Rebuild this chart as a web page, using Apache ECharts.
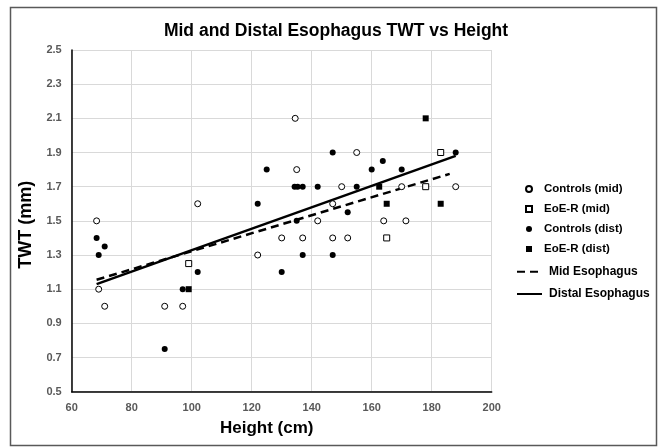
<!DOCTYPE html>
<html>
<head>
<meta charset="utf-8">
<script src="https://cdn.jsdelivr.net/npm/echarts@6/dist/echarts.min.js"></script>
<style>
  html, body { margin: 0; padding: 0; background: #fff; }
  #chart { width: 659px; height: 447px; }
</style>
</head>
<body>
<div id="chart"></div>
<script>
// 数据: [height cm, TWT mm]
const controlsMid = [
  [68.3, 1.5], [69, 1.1], [71, 1.0], [91, 1.0], [97, 1.0], [102, 1.6],
  [122, 1.3], [130, 1.4], [134.5, 2.1], [135, 1.8], [137, 1.4], [142, 1.5],
  [147, 1.6], [147, 1.4], [150, 1.7], [152, 1.4], [155, 1.9], [164, 1.5],
  [170, 1.7], [171.4, 1.5], [188, 1.7]
]
const eoeMid = [[99, 1.25], [165, 1.4], [178, 1.7], [183, 1.9]]
const controlsDist = [
  [68.3, 1.4], [69, 1.3], [71, 1.35], [91, 0.75], [97, 1.1], [102, 1.2],
  [122, 1.6], [125, 1.8], [130, 1.2], [134.3, 1.7], [135.3, 1.7], [135, 1.5],
  [137, 1.7], [137, 1.3], [142, 1.7], [147, 1.9], [147, 1.3], [152, 1.55],
  [155, 1.7], [160, 1.8], [163.7, 1.85], [170, 1.8], [188, 1.9]
]
const eoeDist = [[99, 1.1], [162.5, 1.7], [165, 1.6], [178, 2.1], [183, 1.6]]
// trend lines (end points)
const midTrend = [[68.3, 1.155], [186, 1.775]]
const distTrend = [[68.3, 1.13], [188, 1.88]]

const myChart = echarts.init(document.getElementById('chart'))

const tickLabel = {
  color: '#595959',
  fontSize: 11,
  fontWeight: 'bold',
  fontFamily: 'Liberation Sans'
}

const option = {
  animation: false,
  backgroundColor: '#fff',
  textStyle: { fontFamily: 'Liberation Sans' },
  title: {
    text: 'Mid and Distal Esophagus TWT vs Height',
    left: 331,
    top: 17,
    textAlign: 'center',
    textStyle: { color: '#000', fontSize: 17.5, fontWeight: 'bold', fontFamily: 'Liberation Sans' }
  },
  // 外框
  graphic: [{
    type: 'rect',
    shape: { x: 10.5, y: 7.5, width: 646, height: 438 },
    style: { fill: 'none', stroke: '#595959', lineWidth: 1.5 },
    silent: true
  }],
  grid: { left: 71.7, right: 167.3, top: 50, bottom: 55.3 },
  xAxis: {
    type: 'value',
    min: 60,
    max: 200,
    interval: 20,
    name: 'Height (cm)',
    nameLocation: 'middle',
    nameGap: 28,
    nameTextStyle: { color: '#000', fontSize: 17, fontWeight: 'bold', padding: [0, 30, 0, 0] },
    axisLine: { show: true, lineStyle: { color: '#000', width: 1.5 } },
    axisTick: { show: false },
    axisLabel: Object.assign({ margin: 11 }, tickLabel),
    splitLine: { show: true, lineStyle: { color: '#d9d9d9', width: 1 } }
  },
  yAxis: {
    type: 'value',
    min: 0.5,
    max: 2.5,
    interval: 0.2,
    name: 'TWT (mm)',
    nameLocation: 'middle',
    nameGap: 36,
    nameTextStyle: { color: '#000', fontSize: 18, fontWeight: 'bold', padding: [0, 8, 0, 0] },
    axisLine: { show: true, lineStyle: { color: '#000', width: 1.5 } },
    axisTick: { show: false },
    axisLabel: Object.assign({ margin: 10, formatter: v => v.toFixed(1) }, tickLabel),
    splitLine: { show: true, lineStyle: { color: '#d9d9d9', width: 1 } }
  },
  legend: [
    {
      data: [
        { name: 'Controls (mid)', icon: 'circle' },
        { name: 'EoE-R (mid)', icon: 'rect' },
        { name: 'Controls (dist)', icon: 'circle' },
        { name: 'EoE-R (dist)', icon: 'rect' }
      ],
      orient: 'vertical',
      left: 520,
      top: 177,
      itemWidth: 6,
      itemHeight: 6,
      itemGap: 6,
      textStyle: { color: '#000', fontSize: 11.5, fontWeight: 'bold', lineHeight: 14, padding: [0, 0, 0, 7] }
    },
    {
      data: ['Mid Esophagus', 'Distal Esophagus'],
      orient: 'vertical',
      left: 511,
      top: 259.7,
      itemWidth: 25,
      itemHeight: 10,
      itemGap: 8.3,
      textStyle: { color: '#000', fontSize: 12, fontWeight: 'bold', lineHeight: 14, padding: [0, 0, 0, 2] }
    }
  ],
  series: [
    {
      name: 'Controls (mid)',
      type: 'scatter',
      symbol: 'circle',
      symbolSize: 6,
      itemStyle: { color: '#fff', borderColor: '#000', borderWidth: 1, opacity: 1 },
      data: controlsMid,
      z: 3
    },
    {
      name: 'EoE-R (mid)',
      type: 'scatter',
      symbol: 'rect',
      symbolSize: 6,
      itemStyle: { color: '#fff', borderColor: '#000', borderWidth: 1, opacity: 1 },
      data: eoeMid,
      z: 3
    },
    {
      name: 'Controls (dist)',
      type: 'scatter',
      symbol: 'circle',
      symbolSize: 6,
      itemStyle: { color: '#000', opacity: 1 },
      data: controlsDist,
      z: 3
    },
    {
      name: 'EoE-R (dist)',
      type: 'scatter',
      symbol: 'rect',
      symbolSize: 6,
      itemStyle: { color: '#000', opacity: 1 },
      data: eoeDist,
      z: 3
    },
    {
      name: 'Mid Esophagus',
      type: 'line',
      symbol: 'none',
      data: midTrend,
      lineStyle: { color: '#000', width: 2.5, type: [8, 5] },
      itemStyle: { color: 'rgba(0,0,0,0)' }, // 图例里不画圆点
      z: 2
    },
    {
      name: 'Distal Esophagus',
      type: 'line',
      symbol: 'none',
      data: distTrend,
      lineStyle: { color: '#000', width: 2.5, type: 'solid' },
      itemStyle: { color: 'rgba(0,0,0,0)' },
      z: 2
    }
  ]
}

myChart.setOption(option)
</script>
</body>
</html>
